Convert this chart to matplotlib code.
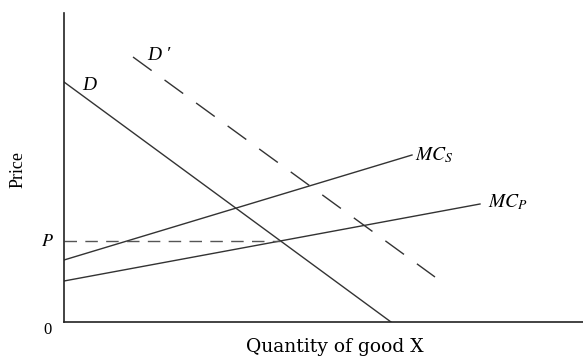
"""Externality diagram: private vs social marginal cost with demand shift."""

import matplotlib

matplotlib.use("Agg")
import matplotlib.pyplot as plt

plt.rcParams["font.family"] = ["Liberation Serif", "DejaVu Serif"]
plt.rcParams["mathtext.fontset"] = "stix"

# line endpoints (x, y) in plot units
demand_x = [0, 327]
demand_y = [240, 0]
demand_shift_x = [69, 371]
demand_shift_y = [265, 45]
mc_social_x = [0, 348]
mc_social_y = [62, 167]
mc_private_x = [0, 416]
mc_private_y = [41, 118]
price_x = [0, 216]
price_y = [81, 81]

line_color = "#333333"

fig = plt.figure(figsize=(5.83, 3.57), dpi=100)
ax = fig.add_axes([64 / 583, 35 / 357, 519 / 583, 309 / 357])
ax.set_xlim(0, 519)
ax.set_ylim(0, 309)

ax.plot(demand_x, demand_y, color=line_color, linewidth=1.0)
ax.plot(demand_shift_x, demand_shift_y, color=line_color, linewidth=1.0,
        dashes=(16.6, 11.5))
ax.plot(mc_social_x, mc_social_y, color=line_color, linewidth=1.0)
ax.plot(mc_private_x, mc_private_y, color=line_color, linewidth=1.0)
ax.plot(price_x, price_y, color="#555555", linewidth=1.0, dashes=(9, 6))

ax.text(demand_x[0] + 18, demand_y[0] - 4, "D", fontsize=14,
        fontstyle="italic", va="center", ha="left")
ax.text(demand_shift_x[0] + 14, demand_shift_y[0] + 2, "D \u2032", fontsize=14,
        fontstyle="italic", va="center", ha="left")
ax.text(mc_social_x[1] + 3, mc_social_y[1], "$MC_S$", fontsize=14,
        va="center", ha="left")
ax.text(mc_private_x[1] + 8, mc_private_y[1] + 2, "$MC_P$", fontsize=14,
        va="center", ha="left")
ax.text(-10, price_y[0], "$P$", fontsize=13, va="center", ha="right")
ax.text(-16, -8, "0", fontsize=12, va="center", ha="center")

ax.set_xticks([])
ax.set_yticks([])
for side in ("top", "right"):
    ax.spines[side].set_visible(False)
for side in ("left", "bottom"):
    ax.spines[side].set_color("#222222")
    ax.spines[side].set_linewidth(1.2)

fig.text(18 / 583, 1 - 169 / 357, "Price", rotation=90, fontsize=13,
         va="center", ha="center")
fig.text(335 / 583, 1 - 347 / 357, "Quantity of good X", fontsize=13.5,
         family="DejaVu Serif", va="center", ha="center")

fig.savefig("out.png", dpi=100)
